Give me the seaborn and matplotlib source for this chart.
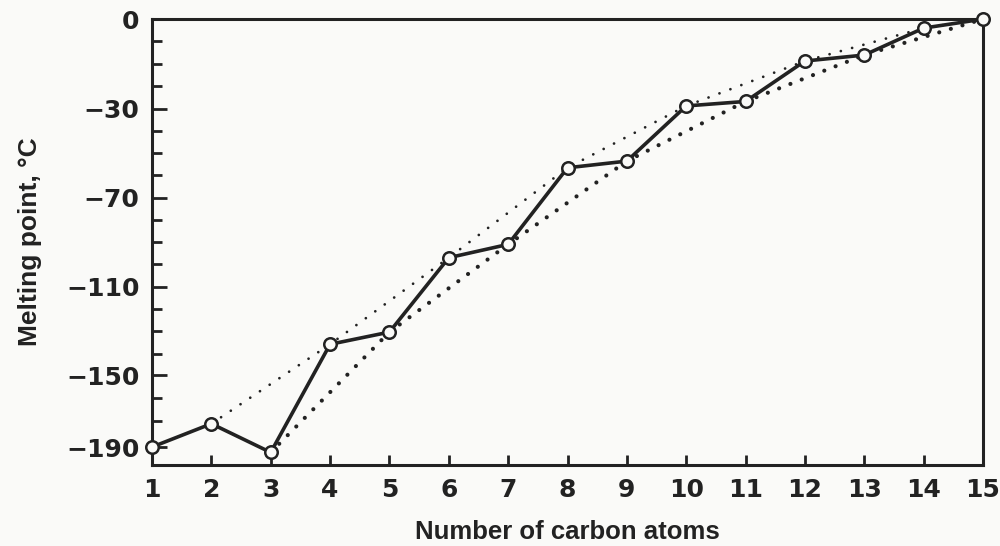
import numpy as np
import pandas as pd
import matplotlib
matplotlib.use("Agg")
import matplotlib.pyplot as plt
import seaborn as sns

sns.set_theme(style="ticks")
plt.rcParams["font.family"] = ["DejaVu Sans"]

# values
carbons = list(range(1, 16))
melting = [-190, -177, -193, -136, -130.5, -97, -91, -56.5, -53.5,
           -29, -27.5, -14, -12, -3, 0]
y_ticks = [0, -30, -70, -110, -150, -190]

df = pd.DataFrame({"n": carbons, "mp": melting})
even = df[(df["n"] % 2 == 0) | (df["n"] == 15)]
odd = df[(df["n"] % 2 == 1) & (df["n"] >= 3)]

# the printed axis is not evenly scaled: tick spacing in pixels on the original
tick_px = [0, -89, -177, -265, -353, -424]
vals = [-400] + y_ticks[::-1] + [200]
pos = [-424 - 210 * 71 / 40] + tick_px[::-1] + [200 * 89 / 30]


def fwd(v):
    return np.interp(v, vals, pos)


def inv(p):
    return np.interp(p, pos, vals)


bg = "#fafaf8"
ink = "#222222"
fig, ax = plt.subplots(figsize=(10, 5.46), dpi=100)
fig.patch.set_facecolor(bg)
ax.set_facecolor(bg)
fig.subplots_adjust(left=0.152, right=0.983, top=0.965, bottom=0.148)
ax.set_yscale("function", functions=(fwd, inv))

# two dotted trend lines (even / odd chains)
for sub, lw, gap in [(even, 2.0, 4.2), (odd, 3.0, 2.9)]:
    sns.lineplot(data=sub, x="n", y="mp", ax=ax, color=ink, lw=lw,
                 sort=False, errorbar=None)
    ln = ax.lines[-1]
    ln.set_dashes((0.01, gap))
    ln.set_dash_capstyle("round")

sns.lineplot(data=df, x="n", y="mp", ax=ax, color=ink, lw=2.6,
             marker="o", markersize=9, markerfacecolor=bg,
             markeredgecolor=ink, markeredgewidth=1.8, sort=False,
             errorbar=None, clip_on=False, zorder=5)

ax.set_xlim(1, 15)
ax.set_ylim(inv(-442), 0)
ax.set_xticks(carbons)
ax.set_xticklabels([str(c) for c in carbons])
ax.set_yticks(y_ticks)
ax.set_yticklabels(["0" if t == 0 else "\u2212" + str(-t) for t in y_ticks])
steps = np.arange(1, 19)
steps = steps[steps % 4 != 0]
ax.set_yticks(inv(-22.1 * steps), minor=True)

for s in ax.spines.values():
    s.set_visible(True)
    s.set_linewidth(2.2)
    s.set_color(ink)

ax.tick_params(axis="both", direction="in", colors=ink, width=2,
               labelsize=18, pad=9)
ax.tick_params(axis="y", which="major", length=11)
ax.tick_params(axis="y", which="minor", length=7, width=2,
               direction="in", color=ink)
ax.tick_params(axis="x", which="major", length=7, top=False)
ax.tick_params(axis="x", which="minor", bottom=False)
for lab in ax.get_xticklabels() + ax.get_yticklabels():
    lab.set_fontweight("bold")

ax.set_xlabel("Number of carbon atoms", fontsize=18.5, fontweight="bold",
              family="Liberation Sans", color=ink)
ax.set_ylabel("Melting point, \u00b0C", fontsize=19, fontweight="bold",
              family="Liberation Sans", color=ink)
ax.xaxis.set_label_coords(0.5, -0.122)
ax.yaxis.set_label_coords(-0.132, 0.5)

fig.savefig("out.png", dpi=100, facecolor=bg)
